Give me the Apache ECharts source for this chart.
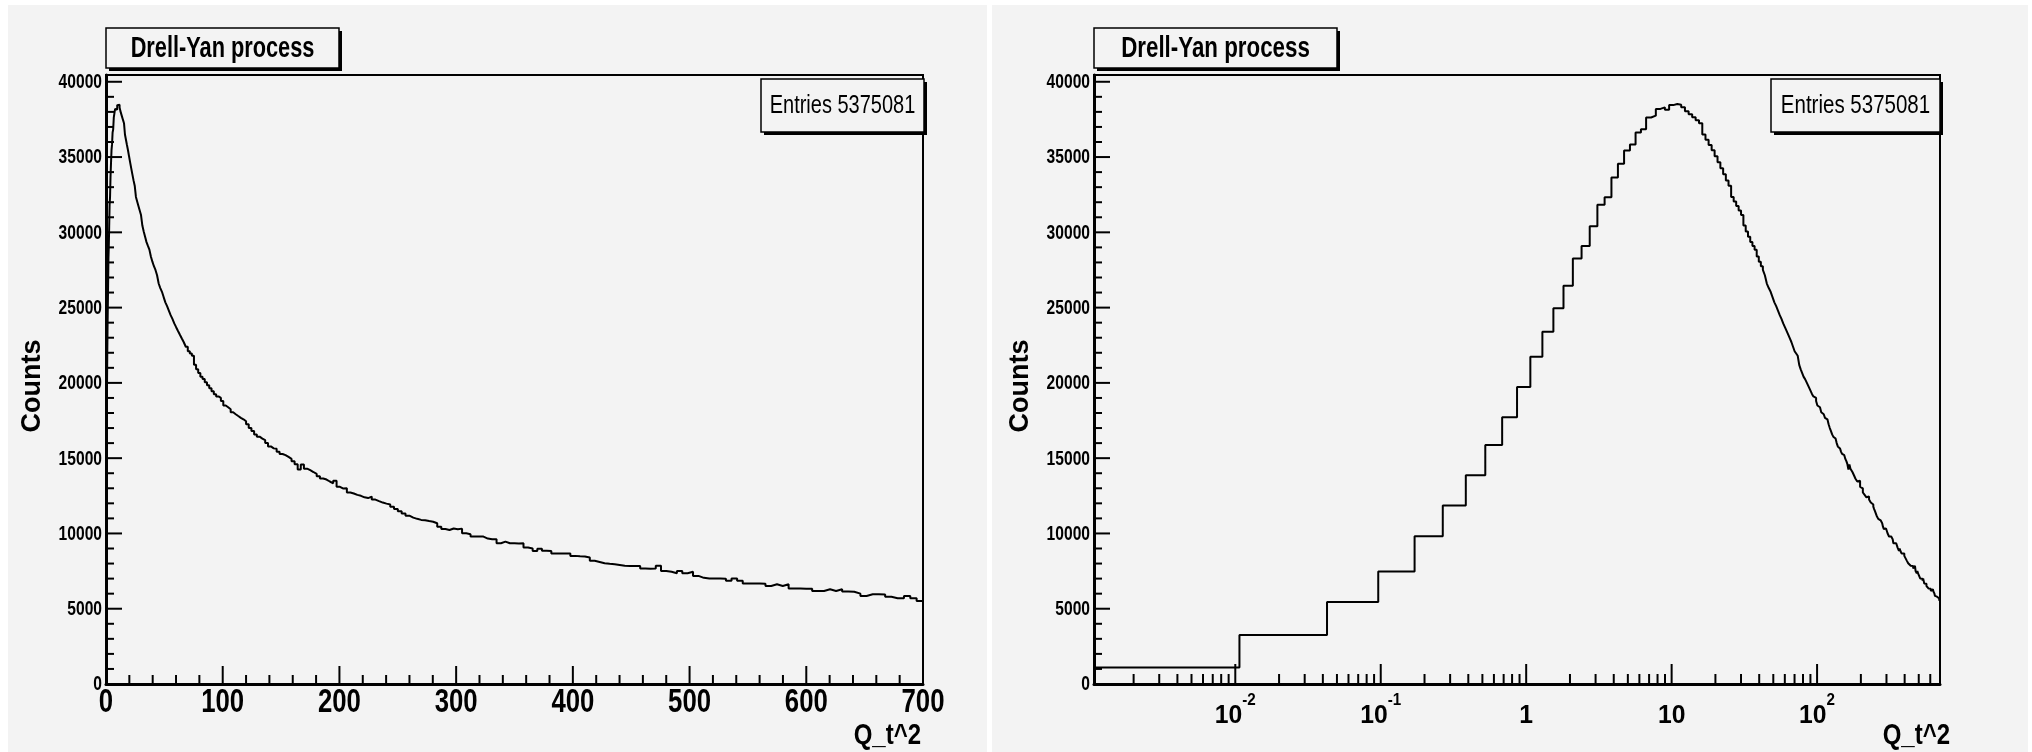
<!DOCTYPE html>
<html>
<head>
<meta charset="utf-8">
<script src="https://cdn.jsdelivr.net/npm/echarts@6.0.0/dist/echarts.min.js"></script>
<style>
  html, body { margin: 0; padding: 0; background: #fff; }
  #chart { width: 2032px; height: 752px; }
</style>
</head>
<body>
<div id="chart"></div>
<script>
// histogram: 256 bins, equal width in Q_t, shown against Q_t^2 (0..700)
const nBins = 256
const q2Max = 700
const entries = 5375081
const titleText = 'Drell-Yan process'
const xTitle = 'Q_t^2'
const yTitle = 'Counts'

// bin contents
const counts = [
  1100, 3260, 5450, 7480, 9810, 11860, 13860, 15880, 17720, 19720,
  21740, 23400, 24950, 26450, 28260, 29100, 30400, 31830, 32330, 33650,
  34550, 35440, 35840, 36630, 36840, 37630, 37750, 38200, 38300, 38150,
  38450, 38520, 38480, 38300,
  38050, 37850, 37650, 37450, 37250, 36500, 36150, 35800, 35450, 35050,
  34650, 34250, 33850, 33450, 33100, 32350, 32050, 31750, 31450, 31150,
  30450, 30050, 29700, 29350, 29100,
  28850, 28400, 28050, 27750, 27500, 27150, 26600, 26300, 26050, 25700,
  25350, 25100, 24800, 24500, 24250, 23950, 23700, 23450, 23200, 22950,
  22700, 22400, 22100, 21950, 21800, 21200, 20900, 20650, 20400, 20250,
  20050, 19850, 19650, 19450, 19250, 19100, 19000, 18800, 18500, 18380,
  18250, 18050, 17920, 17800, 17680, 17580, 17450, 17250, 17000, 16800,
  16580, 16430, 16300, 16200, 16000, 15780, 15650, 15620, 15420, 15280,
  15200, 15080, 14950, 14800, 14600, 14250, 14580, 14300, 14200, 14080,
  13950, 13800, 13650, 13580, 13450, 13330, 13500, 13100, 12980, 13000,
  12720, 12650, 12560, 12500, 12400, 12350, 12450, 12250, 12150, 12050,
  11980, 11920, 11780, 11620, 11480, 11330, 11180, 11050, 10970,
  10900, 10870, 10820, 10780, 10680, 10450, 10300, 10230, 10330, 10280,
  10320, 10010, 9950, 9800, 9790, 9790, 9660, 9620, 9610, 9350,
  9460, 9350, 9350, 9340, 9350, 9060, 9000, 8840, 8990, 8850,
  8840, 8660, 8660, 8670, 8660, 8510, 8480, 8470, 8400, 8180,
  8100, 8020, 7980, 7950, 7900, 7850, 7840, 7840, 7830, 7670,
  7660, 7670, 7850, 7510, 7450, 7360, 7510, 7360, 7450, 7180,
  7050, 7000, 7000, 7000, 6990, 6850, 7000, 6850, 6670, 6670,
  6670, 6660, 6510, 6620, 6510, 6620, 6340, 6340, 6330, 6330,
  6180, 6180, 6290, 6180, 6290, 6140, 6130, 6000, 5850, 5960,
  5960, 5950, 5800, 5700, 5690, 5850, 5690, 5520
]

// axes
const yMax = 40450
const yMajor = [0, 5000, 10000, 15000, 20000, 25000, 30000, 35000, 40000]
const linMajor = [0, 100, 200, 300, 400, 500, 600, 700]
const logDecades = [0.01, 0.1, 1, 10, 100]
const logLabelBase = ['10', '10', '1', '10', '10']
const logLabelExp = ['-2', '-1', '', '', '2']

const FONT = '"Liberation Sans", Arial, Helvetica, sans-serif'
const PAD = '#f3f3f3'
const NARROW = 0.78 // ROOT draws its Helvetica squeezed

// bin edges
let edges = []
for (let k = 0; k <= nBins; k++) edges.push(q2Max * (k / nBins) * (k / nBins))
const logMin = edges[1] * 0.1

function outline(x0) {
  let pts = []
  for (let i = 0; i < nBins; i++) {
    pts.push([i === 0 ? x0 : edges[i], counts[i]])
    pts.push([edges[i + 1], counts[i]])
  }
  return pts
}

// tick marks [x, y, dx, dy] in data / pixel units
function xTicks(vals, y0, len) { return vals.map(v => [v, y0, 0, -len]) }
function yTicks(vals, x0, len) { return vals.map(v => [x0, v, len, 0]) }

let linMinor = []
for (let v = 20; v < q2Max; v += 20) if (v % 100) linMinor.push(v)
let yMinor = []
for (let v = 1000; v < yMax; v += 1000) if (v % 5000) yMinor.push(v)
let logMinor = []
for (let n = -3; n <= 2; n++) {
  for (let m = 2; m <= 9; m++) {
    let v = m * Math.pow(10, n)
    if (v > logMin && v < q2Max) logMinor.push(v)
  }
}

const leftTicks = [].concat(
  xTicks(linMajor, 0, 18), xTicks(linMinor, 0, 9),
  yTicks(yMajor, 0, 16), yTicks(yMinor, 0, 8))
const rightTicks = [].concat(
  xTicks(logDecades, 0, 20), xTicks(logMinor, 0, 10),
  yTicks(yMajor, logMin, 16), yTicks(yMinor, logMin, 8))

function drawTick(params, api) {
  let p = api.coord([api.value(0), api.value(1)])
  return {
    type: 'line',
    shape: { x1: p[0], y1: p[1], x2: p[0] + api.value(2), y2: p[1] + api.value(3) },
    style: { stroke: '#000', lineWidth: 2 }
  }
}

function textEl(x, y, text, font, align, vAlign, sx) {
  return {
    type: 'text', x: x, y: y, scaleX: sx || 1,
    style: { text: text, font: font, fill: '#000', align: align, verticalAlign: vAlign, textAlign: align, textVerticalAlign: vAlign }
  }
}

function drawLinLabel(params, api) {
  let v = api.value(0)
  let p = api.coord([v, 0])
  return textEl(p[0], p[1] + 2, String(v), 'bold 33px ' + FONT, 'center', 'top', NARROW)
}

function drawYLabel(params, api) {
  let p = api.coord([api.value(0), api.value(1)])
  return textEl(p[0] - 4, p[1] + 1, String(api.value(1)), 'bold 19.5px ' + FONT, 'right', 'middle', 0.8)
}

function drawLogLabel(params, api) {
  let p = api.coord([api.value(0), 0])
  let i = api.value(2)
  let txt = '{b|' + logLabelBase[i] + '}' + (logLabelExp[i] ? '{s|' + logLabelExp[i] + '}' : '')
  return {
    type: 'text', x: p[0], y: p[1] + 9, scaleX: 0.95,
    style: {
      text: txt,
      align: 'center', verticalAlign: 'top',
      rich: {
        b: { fontSize: 26, fontWeight: 'bold', fontFamily: FONT, fill: '#000', lineHeight: 36, verticalAlign: 'bottom' },
        s: { fontSize: 16, fontWeight: 'bold', fontFamily: FONT, fill: '#000', lineHeight: 15, verticalAlign: 'top' }
      }
    }
  }
}

function yAxisFor(gi) {
  return {
    type: 'value', gridIndex: gi, min: 0, max: yMax, interval: 5000,
    axisLine: { show: true, onZero: false, lineStyle: { color: '#000', width: 3 } },
    axisTick: { show: false }, splitLine: { show: false }, axisLabel: { show: false }
  }
}

function boxGroup(x, y, w, h, text, font, sx) {
  return {
    type: 'group', z: 50,
    children: [
      { type: 'rect', shape: { x: x + 3, y: y + 3, width: w, height: h }, style: { fill: '#000' } },
      { type: 'rect', shape: { x: x, y: y, width: w, height: h }, style: { fill: PAD, stroke: '#000', lineWidth: 1.5 } },
      textEl(x + w / 2, y + h / 2 + 1, text, font, 'center', 'middle', sx)
    ]
  }
}

function sideText(x, y, text, font, align, rot, sx) {
  let t = textEl(x, y, text, font, align, 'middle', sx)
  t.rotation = rot || 0
  t.z = 50
  return t
}

let chart = echarts.init(document.getElementById('chart'))
let option = {
  animation: false,
  backgroundColor: '#fff',
  grid: [
    { left: 106, top: 75, width: 817, height: 609, show: true, borderColor: '#000', borderWidth: 2, backgroundColor: 'transparent', containLabel: false, outerBoundsMode: 'none' },
    { left: 1094, top: 75, width: 846, height: 609, show: true, borderColor: '#000', borderWidth: 2, backgroundColor: 'transparent', containLabel: false, outerBoundsMode: 'none' }
  ],
  xAxis: [
    {
      type: 'value', gridIndex: 0, min: 0, max: q2Max, interval: 100,
      axisLine: { show: true, onZero: false, lineStyle: { color: '#000', width: 3 } },
      axisTick: { show: false }, splitLine: { show: false }, axisLabel: { show: false }
    },
    {
      type: 'log', logBase: 10, gridIndex: 1, min: logMin, max: q2Max,
      axisLine: { show: true, onZero: false, lineStyle: { color: '#000', width: 3 } },
      axisTick: { show: false }, splitLine: { show: false }, minorTick: { show: false },
      axisLabel: { show: false }
    }
  ],
  yAxis: [yAxisFor(0), yAxisFor(1)],
  series: [
    {
      type: 'line', xAxisIndex: 0, yAxisIndex: 0, data: outline(0),
      symbol: 'none', lineStyle: { color: '#000', width: 2 }, z: 3
    },
    {
      type: 'line', xAxisIndex: 1, yAxisIndex: 1, data: outline(logMin),
      symbol: 'none', lineStyle: { color: '#000', width: 2 }, z: 3
    },
    { type: 'custom', xAxisIndex: 0, yAxisIndex: 0, silent: true, clip: false, data: leftTicks, renderItem: drawTick, z: 4 },
    { type: 'custom', xAxisIndex: 1, yAxisIndex: 1, silent: true, clip: false, data: rightTicks, renderItem: drawTick, z: 4 },
    {
      type: 'custom', xAxisIndex: 0, yAxisIndex: 0, silent: true, clip: false,
      data: linMajor.map(v => [v, 0]), renderItem: drawLinLabel, z: 4
    },
    {
      type: 'custom', xAxisIndex: 0, yAxisIndex: 0, silent: true, clip: false,
      data: yMajor.map(v => [0, v]), renderItem: drawYLabel, z: 4
    },
    {
      type: 'custom', xAxisIndex: 1, yAxisIndex: 1, silent: true, clip: false,
      data: yMajor.map(v => [logMin, v]), renderItem: drawYLabel, z: 4
    },
    {
      type: 'custom', xAxisIndex: 1, yAxisIndex: 1, silent: true, clip: false,
      data: logDecades.map((v, i) => [v, 0, i]), renderItem: drawLogLabel, z: 4
    }
  ],
  graphic: [
    // pads
    { type: 'rect', z: -100, shape: { x: 8, y: 5, width: 979, height: 747 }, style: { fill: PAD } },
    { type: 'rect', z: -100, shape: { x: 992, y: 5, width: 1036, height: 747 }, style: { fill: PAD } },
    // titles
    boxGroup(106, 28, 233, 40, titleText, 'bold 29px ' + FONT, 0.75),
    boxGroup(1094, 28, 243, 40, titleText, 'bold 29px ' + FONT, 0.77),
    // stats boxes
    boxGroup(761, 79, 163, 53, 'Entries ' + entries, '25px ' + FONT, 0.8),
    boxGroup(1771, 79, 169, 53, 'Entries ' + entries, '25px ' + FONT, 0.82),
    // axis titles
    sideText(33, 386, yTitle, 'bold 27px ' + FONT, 'center', Math.PI / 2),
    sideText(1021, 386, yTitle, 'bold 27px ' + FONT, 'center', Math.PI / 2),
    sideText(921, 736, xTitle, 'bold 30px ' + FONT, 'right', 0, 0.8),
    sideText(1950, 736, xTitle, 'bold 30px ' + FONT, 'right', 0, 0.8)
  ]
}
chart.setOption(option)
</script>
</body>
</html>
